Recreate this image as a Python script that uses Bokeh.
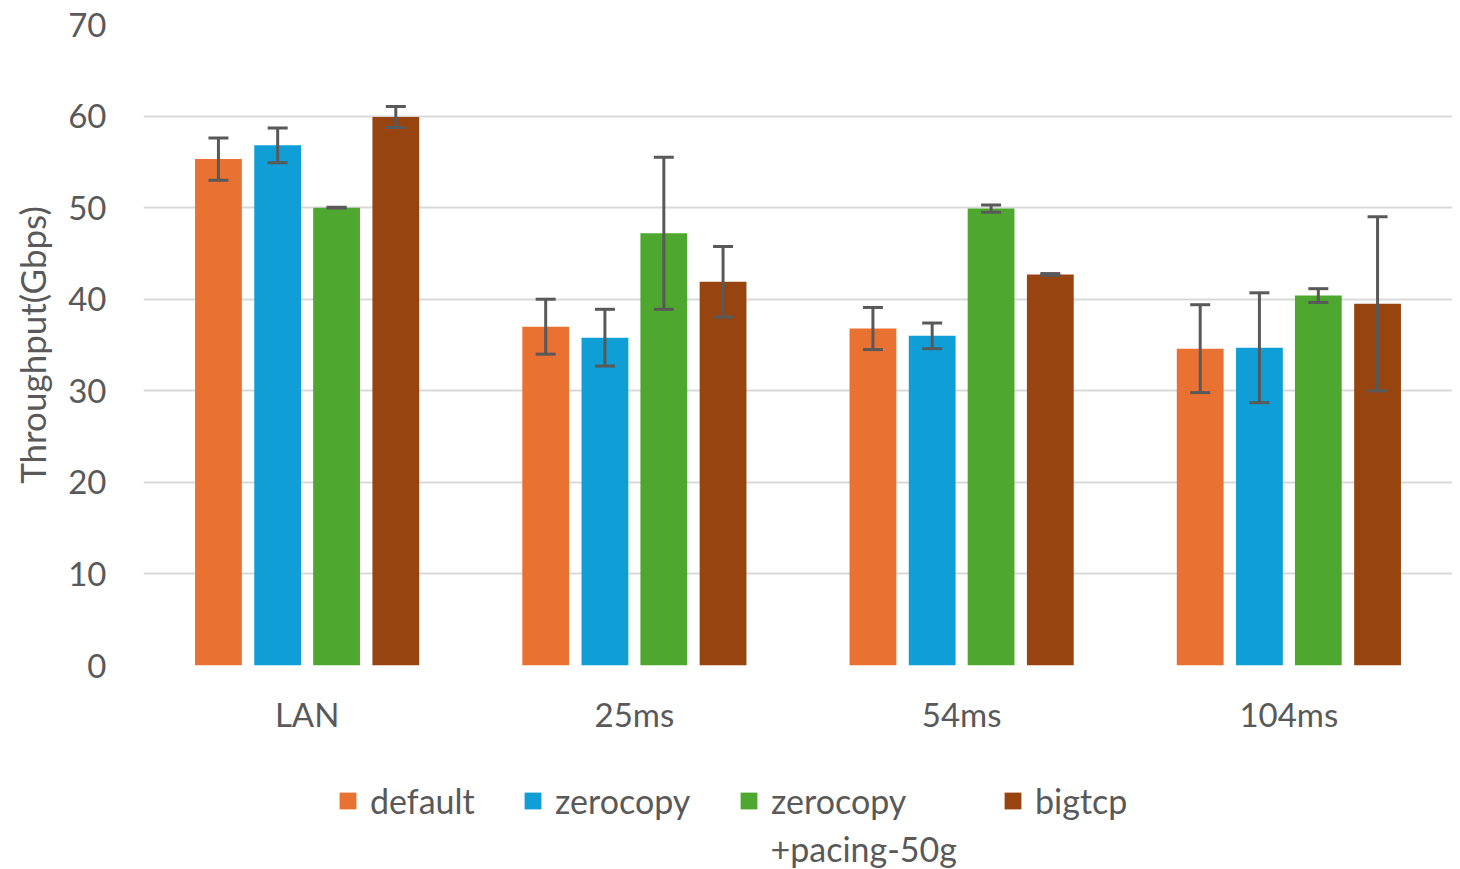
from bokeh.plotting import figure
from bokeh.models import (ColumnDataSource, FactorRange, Whisker, TeeHead, Legend,
                          LegendItem, Label, Range1d)
from bokeh.layouts import column
from bokeh.transform import dodge
from bokeh.embed import file_html
from bokeh.resources import INLINE

# ---- data ----
cats = ["LAN", "25ms", "54ms", "104ms"]
series_names = ["default", "zerocopy", "zerocopy", "bigtcp"]
pacing_second_line = "+pacing-50g"
default_vals = [55.3, 37.0, 36.8, 34.6]
default_err = [2.3, 3.0, 2.3, 4.8]
zerocopy_vals = [56.8, 35.8, 36.0, 34.7]
zerocopy_err = [1.9, 3.1, 1.4, 6.0]
pacing_vals = [50.0, 47.2, 49.9, 40.4]
pacing_err = [0.05, 8.3, 0.4, 0.75]
bigtcp_vals = [59.9, 41.9, 42.7, 39.5]
bigtcp_err = [1.15, 3.85, 0.1, 9.5]
y_ticks = [0, 10, 20, 30, 40, 50, 60, 70]

colors = ["#E97132", "#0F9ED5", "#4EA72E", "#974411"]
offsets = [-0.271, -0.09, 0.09, 0.271]
values = [default_vals, zerocopy_vals, pacing_vals, bigtcp_vals]
errors = [default_err, zerocopy_err, pacing_err, bigtcp_err]

FONT = "Lato"
TXT = "#595959"
FS = "33px"
W = 1452

p = figure(x_range=FactorRange(factors=cats), y_range=(0, 70),
           width=W, height=760, output_backend="svg", toolbar_location=None,
           min_border_left=143, min_border_right=0, min_border_top=24,
           min_border_bottom=95)
p.outline_line_color = None
p.background_fill_color = "white"
p.border_fill_color = "white"

for vals, errs, col, off in zip(values, errors, colors, offsets):
    src = ColumnDataSource(dict(cat=cats, val=vals,
                                upper=[v + e for v, e in zip(vals, errs)],
                                lower=[v - e for v, e in zip(vals, errs)]))
    p.vbar(x=dodge("cat", off, range=p.x_range), top="val", width=0.143,
           source=src, fill_color=col, line_color=None)
    w = Whisker(base=dodge("cat", off, range=p.x_range), upper="upper", lower="lower",
                source=src, line_color="#595959", line_width=3, level="overlay",
                upper_head=TeeHead(size=20, line_color="#595959", line_width=3),
                lower_head=TeeHead(size=20, line_color="#595959", line_width=3))
    p.add_layout(w)

# axes
p.yaxis.ticker = y_ticks
p.yaxis.axis_line_color = None
p.yaxis.major_tick_line_color = None
p.yaxis.minor_tick_line_color = None
p.yaxis.major_label_standoff = 31
p.yaxis.major_label_text_font = FONT
p.yaxis.major_label_text_font_size = FS
p.yaxis.major_label_text_color = TXT
p.yaxis.axis_label = "Throughput(Gbps)"
p.yaxis.axis_label_text_font = FONT
p.yaxis.axis_label_text_font_size = "35px"
p.yaxis.axis_label_text_font_style = "normal"
p.yaxis.axis_label_text_color = TXT
p.yaxis.axis_label_standoff = 12

p.xaxis.axis_line_color = None
p.xaxis.major_tick_line_color = None
p.xaxis.minor_tick_line_color = None
p.xaxis.major_label_standoff = 22
p.xaxis.major_label_text_font = FONT
p.xaxis.major_label_text_font_size = FS
p.xaxis.major_label_text_color = TXT

p.xgrid.grid_line_color = None
p.ygrid.grid_line_color = "#D9D9D9"
p.ygrid.grid_line_width = 2

# ---- legend strip (separate figure below the chart) ----
lg = figure(width=W, height=109, output_backend="svg", toolbar_location=None,
            x_range=Range1d(0, 1), y_range=Range1d(0, 1),
            x_axis_location=None, y_axis_location=None,
            min_border_left=143, min_border_right=0, min_border_top=0,
            min_border_bottom=0)
lg.grid.visible = False
lg.outline_line_color = None
lg.background_fill_color = "white"
lg.border_fill_color = "white"

LFS = "34px"
# offsets measured from the left edge of the frame (x=143 on the page)
leg_x = [194, 379, 595, 859]
for name, col, lx in zip(series_names, colors, leg_x):
    # swatch-only renderer, placed below the visible range
    r = lg.vbar(x=[0.5], bottom=[-6], top=[-5], width=0.1,
                fill_color=col, line_color=None)
    leg = Legend(items=[LegendItem(label=name, renderers=[r])],
                 location=(lx, 48), orientation="horizontal",
                 glyph_width=21, glyph_height=21, label_height=40,
                 label_standoff=12, label_text_font=FONT,
                 label_text_font_size=LFS, label_text_color=TXT,
                 label_text_baseline="middle",
                 border_line_color=None, background_fill_alpha=0,
                 padding=0, margin=0, spacing=0)
    lg.add_layout(leg, "center")

lg.add_layout(Label(x=627, y=21, x_units="screen", y_units="screen",
                    text=pacing_second_line, text_font=FONT, text_font_size=LFS,
                    text_color=TXT, text_baseline="middle", text_align="left"))

layout = column(p, lg, spacing=0)
open("out.html", "w").write(file_html(layout, INLINE))
